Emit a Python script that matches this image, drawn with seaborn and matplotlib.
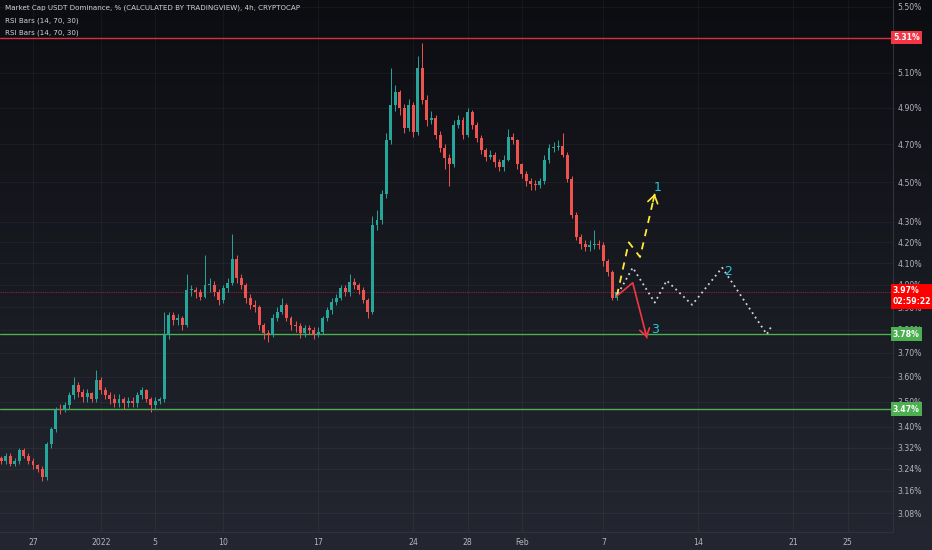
import numpy as np
import pandas as pd
import matplotlib
matplotlib.use("Agg")
import matplotlib.pyplot as plt
import matplotlib.dates as mdates
from matplotlib.ticker import NullLocator
from matplotlib.transforms import blended_transform_factory
import seaborn as sns

# ---------------- data ----------------
start_time = "2021-12-24 16:00"
candle_freq = "8h"
first_open = 3.28
closes = [3.27, 3.29, 3.26, 3.27, 3.31, 3.29, 3.27, 3.255, 3.24, 3.21,
          3.335, 3.39, 3.47, 3.467, 3.485, 3.525, 3.567, 3.537, 3.517, 3.533,
          3.512, 3.587, 3.546, 3.525, 3.512, 3.496, 3.512, 3.493, 3.504, 3.496,
          3.525, 3.546, 3.512, 3.485, 3.504, 3.512, 3.778, 3.865, 3.843, 3.852,
          3.822, 3.977, 3.977, 3.968, 3.945, 4.00, 4.00, 3.968, 3.932, 3.986,
          4.01, 4.119, 4.033, 4.00, 3.941, 3.909, 3.90, 3.822, 3.787, 3.778,
          3.852, 3.878, 3.909, 3.852, 3.822, 3.817, 3.787, 3.809, 3.80, 3.778,
          3.791, 3.852, 3.887, 3.923, 3.941, 3.986, 3.968, 4.014, 4.00, 3.977,
          3.932, 3.878, 4.286, 4.31, 4.438, 4.722, 4.917, 4.991, 4.90, 4.789,
          4.917, 4.767, 5.131, 4.946, 4.833, 4.844, 4.75, 4.68, 4.628, 4.592,
          4.806, 4.833, 4.75, 4.878, 4.806, 4.733, 4.669, 4.633, 4.644, 4.603,
          4.577, 4.618, 4.739, 4.722, 4.592, 4.541, 4.505, 4.49, 4.485, 4.505,
          4.618, 4.68, 4.685, 4.69, 4.644, 4.515, 4.336, 4.224, 4.19, 4.176,
          4.186, 4.19, 4.186, 4.11, 4.062, 3.941, 3.968]
highs = [3.29, 3.30, 3.30, 3.28, 3.32, 3.32, 3.30, 3.28, 3.26, 3.25,
         3.34, 3.40, 3.48, 3.49, 3.50, 3.54, 3.60, 3.58, 3.55, 3.55,
         3.54, 3.63, 3.60, 3.56, 3.54, 3.53, 3.53, 3.52, 3.52, 3.52,
         3.54, 3.56, 3.55, 3.52, 3.52, 3.52, 3.88, 3.88, 3.88, 3.87,
         3.86, 4.05, 4.00, 3.99, 3.98, 4.14, 4.03, 4.02, 3.98, 4.00,
         4.03, 4.24, 4.14, 4.05, 4.01, 3.96, 3.93, 3.91, 3.83, 3.80,
         3.87, 3.90, 3.94, 3.92, 3.86, 3.84, 3.83, 3.82, 3.82, 3.81,
         3.81, 3.86, 3.90, 3.94, 3.96, 4.00, 4.00, 4.05, 4.03, 4.01,
         3.99, 3.94, 4.33, 4.36, 4.46, 4.76, 5.13, 5.03, 5.00, 4.92,
         4.95, 4.93, 5.20, 5.28, 4.97, 4.88, 4.86, 4.77, 4.70, 4.65,
         4.83, 4.86, 4.85, 4.90, 4.89, 4.82, 4.75, 4.68, 4.67, 4.66,
         4.62, 4.64, 4.78, 4.76, 4.73, 4.60, 4.56, 4.52, 4.51, 4.52,
         4.64, 4.70, 4.71, 4.72, 4.76, 4.66, 4.53, 4.35, 4.24, 4.21,
         4.21, 4.26, 4.21, 4.20, 4.12, 4.07, 3.98]
lows = [3.26, 3.26, 3.25, 3.25, 3.26, 3.28, 3.26, 3.24, 3.23, 3.195,
        3.20, 3.32, 3.38, 3.45, 3.46, 3.47, 3.51, 3.52, 3.50, 3.50,
        3.50, 3.50, 3.53, 3.51, 3.49, 3.48, 3.48, 3.47, 3.48, 3.48,
        3.48, 3.51, 3.50, 3.46, 3.47, 3.49, 3.50, 3.76, 3.82, 3.82,
        3.80, 3.81, 3.95, 3.94, 3.93, 3.94, 3.97, 3.95, 3.91, 3.92,
        3.97, 4.00, 4.01, 3.98, 3.92, 3.89, 3.88, 3.80, 3.76, 3.745,
        3.77, 3.84, 3.87, 3.84, 3.80, 3.79, 3.765, 3.77, 3.78, 3.76,
        3.77, 3.78, 3.84, 3.87, 3.91, 3.93, 3.95, 3.95, 3.98, 3.96,
        3.92, 3.85, 3.87, 4.26, 4.29, 4.42, 4.70, 4.88, 4.86, 4.76,
        4.77, 4.74, 4.75, 4.92, 4.80, 4.81, 4.73, 4.66, 4.57, 4.48,
        4.58, 4.79, 4.73, 4.74, 4.78, 4.71, 4.65, 4.61, 4.62, 4.58,
        4.56, 4.56, 4.61, 4.70, 4.57, 4.52, 4.48, 4.46, 4.46, 4.47,
        4.49, 4.60, 4.66, 4.67, 4.63, 4.50, 4.32, 4.21, 4.17, 4.16,
        4.16, 4.17, 4.17, 4.09, 4.04, 3.93, 3.93]

# horizontal levels
resistance_level = 5.31
support_levels = [3.78, 3.47]
last_price = 3.97
countdown = "02:59:22"

# projected scenarios (hand-drawn on the chart)
path1_t = ["2022-02-08 00:00", "2022-02-08 21:00", "2022-02-09 17:00", "2022-02-10 19:00"]
path1_p = [3.95, 4.20, 4.13, 4.44]
path2_t = ["2022-02-08 02:00", "2022-02-09 04:00", "2022-02-10 19:00", "2022-02-11 16:00",
           "2022-02-13 13:00", "2022-02-15 18:00", "2022-02-19 01:00", "2022-02-19 08:00"]
path2_p = [3.96, 4.08, 3.92, 4.02, 3.91, 4.08, 3.78, 3.81]
path3_t = ["2022-02-08 00:00", "2022-02-09 04:00", "2022-02-10 05:00"]
path3_p = [3.95, 4.01, 3.765]
scenario_labels = ["1", "2", "3"]
scenario_label_t = ["2022-02-11 00:00", "2022-02-16 05:00", "2022-02-10 20:00"]
scenario_label_p = [4.47, 4.06, 3.80]

ytick_values = [5.50, 5.10, 4.90, 4.70, 4.50, 4.30, 4.20, 4.10, 4.00, 3.90, 3.80,
                3.70, 3.60, 3.50, 3.40, 3.32, 3.24, 3.16, 3.08]
xtick_dates = ["2021-12-27", "2022-01-01", "2022-01-05", "2022-01-10", "2022-01-17",
               "2022-01-24", "2022-01-28", "2022-02-01", "2022-02-07", "2022-02-14",
               "2022-02-21", "2022-02-25"]
xtick_labels = ["27", "2022", "5", "10", "17", "24", "28", "Feb", "7", "14", "21", "25"]
legend_lines = ["Market Cap USDT Dominance, % (CALCULATED BY TRADINGVIEW), 4h, CRYPTOCAP",
                "RSI Bars (14, 70, 30)", "RSI Bars (14, 70, 30)"]

# ---------------- style ----------------
sns.set_theme(style="dark")
plt.rcParams['font.family'] = ['DejaVu Sans']

UP = "#26a69a"
DOWN = "#ef5350"
TXT = "#b2b5be"
RED = "#f23645"
GREEN = "#4caf50"
CYAN = "#26c6da"

times = pd.date_range(start_time, periods=len(closes), freq=candle_freq)
opens = [first_open] + closes[:-1]
df = pd.DataFrame(dict(time=times, open=opens, high=highs, low=lows, close=closes))
df["x"] = mdates.date2num(df["time"])
df["up"] = df["close"] >= df["open"]

W, H = 932, 550
fig = plt.figure(figsize=(W / 100, H / 100), dpi=100)

# gradient background
bg = fig.add_axes([0, 0, 1, 1], zorder=-10)
top = np.array([12, 13, 17]) / 255
bot = np.array([36, 39, 49]) / 255
grad = np.linspace(0, 1, 256)[:, None, None]
img = top[None, None, :] * (1 - grad) + bot[None, None, :] * grad
bg.imshow(np.repeat(img, 2, axis=1), aspect="auto", extent=[0, 1, 0, 1])
bg.set_axis_off()

ax = fig.add_axes([0, 18 / H, 893 / W, 532 / H])
ax.set_facecolor("none")
ax.set_yscale("log")

xlo = mdates.date2num(pd.Timestamp("2021-12-24 13:40"))
xhi = mdates.date2num(pd.Timestamp("2022-02-28 08:00"))
ax.set_xlim(xlo, xhi)
ax.set_ylim(3.014, 5.544)

# grid
ax.set_yticks(ytick_values)
ax.set_yticklabels([f"{v:.2f}%" for v in ytick_values])
ax.yaxis.set_minor_locator(NullLocator())
ax.yaxis.tick_right()
xt = mdates.date2num(pd.to_datetime(xtick_dates))
ax.set_xticks(xt)
ax.set_xticklabels(xtick_labels)
ax.xaxis.set_minor_locator(NullLocator())
ax.grid(True, color="#ffffff", alpha=0.045, lw=0.8)
ax.set_axisbelow(True)
ax.tick_params(axis="y", length=0, pad=3, labelsize=5.6, labelcolor=TXT)
ax.tick_params(axis="x", length=0, pad=4, labelsize=5.6, labelcolor=TXT)
for s in ["left", "top"]:
    ax.spines[s].set_visible(False)
for s in ["right", "bottom"]:
    ax.spines[s].set_color("#2f323c")
    ax.spines[s].set_linewidth(0.8)

# candles
colors = np.where(df["up"], UP, DOWN)
ax.vlines(df["x"], df["low"], df["high"], colors=colors, lw=0.7, zorder=3)
body_lo = np.minimum(df["open"], df["close"])
body_h = np.maximum(np.abs(df["close"] - df["open"]), 0.004)
ax.bar(df["x"], body_h, bottom=body_lo, width=0.22, color=colors, linewidth=0, zorder=4)

# horizontal levels
ax.axhline(resistance_level, color=RED, lw=1.0, alpha=0.9, zorder=2)
for lv in support_levels:
    ax.axhline(lv, color=GREEN, lw=1.0, zorder=2)
ax.axhline(last_price, color=RED, lw=0.8, alpha=0.5, ls=(0, (1, 1)), zorder=2)

# scenario paths
def dn(ts):
    return mdates.date2num(pd.to_datetime(ts))

p1x, p2x, p3x = dn(path1_t), dn(path2_t), dn(path3_t)
sns.lineplot(x=p1x, y=path1_p, sort=False, estimator=None, ax=ax, color="#ffeb3b",
             lw=1.3, linestyle=(0, (4, 3.5)), zorder=6)
sns.lineplot(x=p2x, y=path2_p, sort=False, estimator=None, ax=ax, color="#d1d4dc",
             lw=1.3, linestyle=(0, (1, 2)), zorder=6)
sns.lineplot(x=p3x, y=path3_p, sort=False, estimator=None, ax=ax, color=RED,
             lw=1.2, zorder=6)


def head(xs, ys, color):
    x0, y0, x1, y1 = xs[-2], ys[-2], xs[-1], ys[-1]
    f = 0.12
    xb = x1 - f * (x1 - x0)
    yb = np.exp(np.log(y1) - f * (np.log(y1) - np.log(y0)))
    ax.annotate("", xy=(x1, y1), xytext=(xb, yb),
                arrowprops=dict(arrowstyle="->,head_length=0.45,head_width=0.3",
                                color=color, lw=1.2, shrinkA=0, shrinkB=0), zorder=7)

head(p1x, path1_p, "#ffeb3b")
head(p3x, path3_p, RED)

for lab, t, p in zip(scenario_labels, dn(scenario_label_t), scenario_label_p):
    ax.text(t, p, lab, color=CYAN, fontsize=9, ha="center", va="center", zorder=8)

# price tags on the right scale
trans = blended_transform_factory(ax.transAxes, ax.transData)
def tag(price, text, fc, dy=0, ls=1.2):
    ax.annotate(text, xy=(1.0, price), xycoords=trans, xytext=(0, dy),
                textcoords="offset points", ha="left", va="center",
                fontsize=5.6, color="white", fontweight="bold", annotation_clip=False,
                zorder=10, linespacing=ls,
                bbox=dict(boxstyle="square,pad=0.3", fc=fc, ec="none"))

tag(resistance_level, f"{resistance_level:.2f}%", RED)
for lv in support_levels:
    tag(lv, f"{lv:.2f}%", GREEN)
tag(last_price, f"{last_price:.2f}%\n{countdown}", "#ff0000", dy=-3.5, ls=1.3)

# legend text
for i, line in enumerate(legend_lines):
    fig.text(5 / W, 1 - (8 + 12.5 * i) / H, line, fontsize=5.1, color="#d1d4dc",
             ha="left", va="center")

fig.savefig("out.png", dpi=100, facecolor=fig.get_facecolor())
